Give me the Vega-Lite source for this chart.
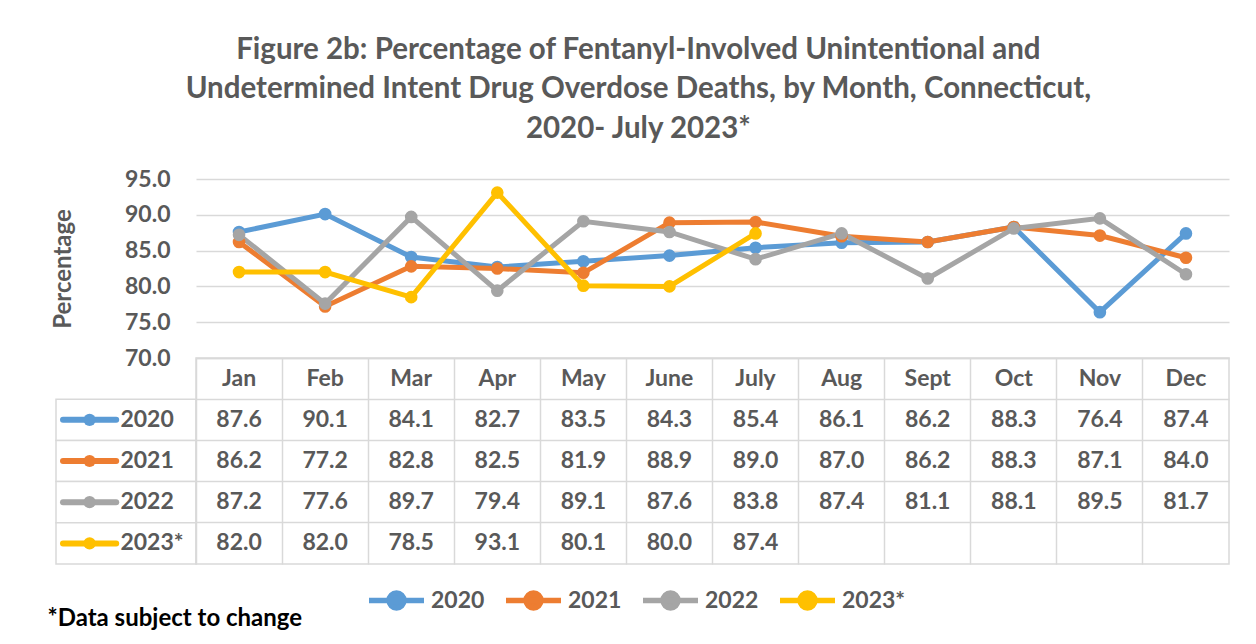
{
  "$schema": "https://vega.github.io/schema/vega-lite/v6.json",
  "background": "white",
  "padding": {"left": 47, "top": 34, "right": 10, "bottom": 5},
  "config": {
    "font": "Lato",
    "view": {"stroke": null},
    "axis": {
      "labelFont": "Lato", "labelFontWeight": "bold", "labelFontSize": 23, "labelColor": "#595959",
      "titleFont": "Lato", "titleFontWeight": "bold", "titleFontSize": 24, "titleColor": "#595959"
    },
    "legend": {"labelFont": "Lato", "labelFontWeight": "bold", "labelFontSize": 23, "labelColor": "#595959"}
  },
  "title": {
    "text": ["Figure 2b: Percentage of Fentanyl-Involved Unintentional and", "Undetermined Intent Drug Overdose Deaths, by Month, Connecticut,", "2020- July 2023*"],
    "font": "Lato", "fontSize": 29.5, "fontWeight": "bold", "color": "#595959",
    "lineHeight": 39.5, "anchor": "middle", "offset": 24
  },
  "data": {"values": [
    {"year": "2020", "month": "Jan", "value": 87.6}, {"year": "2020", "month": "Feb", "value": 90.1}, {"year": "2020", "month": "Mar", "value": 84.1}, {"year": "2020", "month": "Apr", "value": 82.7}, {"year": "2020", "month": "May", "value": 83.5}, {"year": "2020", "month": "June", "value": 84.3}, {"year": "2020", "month": "July", "value": 85.4}, {"year": "2020", "month": "Aug", "value": 86.1}, {"year": "2020", "month": "Sept", "value": 86.2}, {"year": "2020", "month": "Oct", "value": 88.3}, {"year": "2020", "month": "Nov", "value": 76.4}, {"year": "2020", "month": "Dec", "value": 87.4},
    {"year": "2021", "month": "Jan", "value": 86.2}, {"year": "2021", "month": "Feb", "value": 77.2}, {"year": "2021", "month": "Mar", "value": 82.8}, {"year": "2021", "month": "Apr", "value": 82.5}, {"year": "2021", "month": "May", "value": 81.9}, {"year": "2021", "month": "June", "value": 88.9}, {"year": "2021", "month": "July", "value": 89.0}, {"year": "2021", "month": "Aug", "value": 87.0}, {"year": "2021", "month": "Sept", "value": 86.2}, {"year": "2021", "month": "Oct", "value": 88.3}, {"year": "2021", "month": "Nov", "value": 87.1}, {"year": "2021", "month": "Dec", "value": 84.0},
    {"year": "2022", "month": "Jan", "value": 87.2}, {"year": "2022", "month": "Feb", "value": 77.6}, {"year": "2022", "month": "Mar", "value": 89.7}, {"year": "2022", "month": "Apr", "value": 79.4}, {"year": "2022", "month": "May", "value": 89.1}, {"year": "2022", "month": "June", "value": 87.6}, {"year": "2022", "month": "July", "value": 83.8}, {"year": "2022", "month": "Aug", "value": 87.4}, {"year": "2022", "month": "Sept", "value": 81.1}, {"year": "2022", "month": "Oct", "value": 88.1}, {"year": "2022", "month": "Nov", "value": 89.5}, {"year": "2022", "month": "Dec", "value": 81.7},
    {"year": "2023*", "month": "Jan", "value": 82.0}, {"year": "2023*", "month": "Feb", "value": 82.0}, {"year": "2023*", "month": "Mar", "value": 78.5}, {"year": "2023*", "month": "Apr", "value": 93.1}, {"year": "2023*", "month": "May", "value": 80.1}, {"year": "2023*", "month": "June", "value": 80.0}, {"year": "2023*", "month": "July", "value": 87.4}, {"year": "2023*", "month": "Aug", "value": null}, {"year": "2023*", "month": "Sept", "value": null}, {"year": "2023*", "month": "Oct", "value": null}, {"year": "2023*", "month": "Nov", "value": null}, {"year": "2023*", "month": "Dec", "value": null}
  ]},
  "columns": 2,
  "spacing": 0,
  "bounds": "flush",
  "resolve": {"scale": {"color": "shared"}},
  "concat": [
    {
      "width": 140,
      "height": 179,
      "view": {"stroke": null},
      "transform": [{"filter": "false"}],
      "mark": {"type": "point", "opacity": 0}
    },
    {
      "width": 1033,
      "height": 179,
      "view": {"stroke": null},
      "transform": [{"filter": "datum.value != null"}],
      "encoding": {
        "x": {"field": "month", "type": "ordinal", "sort": ["Jan","Feb","Mar","Apr","May","June","July","Aug","Sept","Oct","Nov","Dec"],
              "scale": {"type": "point", "padding": 0.5, "domain": ["Jan","Feb","Mar","Apr","May","June","July","Aug","Sept","Oct","Nov","Dec"]}, "axis": null},
        "y": {"field": "value", "type": "quantitative", "scale": {"domain": [70, 95], "nice": false, "zero": false},
              "axis": {"values": [70, 75, 80, 85, 90, 95], "format": ".1f", "title": "Percentage", "ticks": false, "domain": false,
                       "labelPadding": 26, "titlePadding": 49, "grid": true, "gridColor": "#D9D9D9", "gridWidth": 1.5}},
        "color": {"field": "year", "type": "nominal",
                  "scale": {"domain": ["2020", "2021", "2022", "2023*"], "range": ["#5B9BD5", "#ED7D31", "#A5A5A5", "#FFC000"]}}
      },
      "layer": [
        {"mark": {"type": "line", "strokeWidth": 5}},
        {"mark": {"type": "point", "filled": true, "size": 160, "opacity": 1},
         "encoding": {
           "color": {"field": "year", "type": "nominal",
             "legend": {"orient": "none", "legendX": 310, "legendY": 391, "direction": "horizontal", "title": null,
                        "symbolType": "M-1,0H1M-0.27,0A0.27,0.27,0,1,0,0.27,0A0.27,0.27,0,1,0,-0.27,0Z",
                        "symbolSize": 3025, "symbolStrokeWidth": 5.5, "labelOffset": 4, "columnPadding": 10,
                        "encode": {"symbols": {"update": {"fill": {"scale": "color", "field": "value"}, "stroke": {"scale": "color", "field": "value"}, "strokeWidth": {"value": 5.5}}}}}}
         }}
      ]
    },
    {
      "width": 140,
      "height": 206,
      "view": {"stroke": null},
      "transform": [{"filter": "datum.month == 'Jan'"}],
      "encoding": {
        "y": {"field": "year", "type": "nominal", "scale": {"type": "band", "domain": ["", "2020", "2021", "2022", "2023*"], "paddingInner": 0, "paddingOuter": 0}, "axis": null}
      },
      "layer": [
        {"mark": {"type": "rect", "fill": "white", "stroke": "#D9D9D9", "strokeWidth": 1.5},
         "encoding": {"x": {"datum": 0, "type": "quantitative", "scale": {"domain": [0, 1], "nice": false},
                            "axis": {"title": "*Data subject to change", "labels": false, "ticks": false, "domain": false, "grid": false,
                                     "titleAnchor": "start", "titleAlign": "left", "titlePadding": 42, "titleColor": "#000000", "titleFontSize": 24, "titleX": -9}},
                      "x2": {"datum": 1}}},
        {"mark": {"type": "rule", "strokeWidth": 6, "strokeCap": "round"},
         "encoding": {"x": {"datum": 0.05, "type": "quantitative"}, "x2": {"datum": 0.43},
                      "y": {"field": "year", "type": "nominal", "bandPosition": 0.5},
                      "color": {"field": "year", "type": "nominal"}}},
        {"mark": {"type": "point", "filled": true, "size": 150, "opacity": 1},
         "encoding": {"x": {"datum": 0.24, "type": "quantitative"},
                      "y": {"field": "year", "type": "nominal", "bandPosition": 0.5},
                      "color": {"field": "year", "type": "nominal"}}},
        {"mark": {"type": "text", "align": "left", "baseline": "middle", "fontSize": 23, "fontWeight": "bold", "color": "#595959", "font": "Lato"},
         "encoding": {"x": {"datum": 0.46, "type": "quantitative"},
                      "y": {"field": "year", "type": "nominal", "bandPosition": 0.5},
                      "text": {"field": "year"}}}
      ]
    },
    {
      "width": 1033,
      "height": 206,
      "view": {"stroke": "#D9D9D9", "strokeWidth": 1.5},
      "encoding": {
        "x": {"field": "month", "type": "ordinal",
              "scale": {"type": "band", "domain": ["Jan","Feb","Mar","Apr","May","June","July","Aug","Sept","Oct","Nov","Dec"], "paddingInner": 0, "paddingOuter": 0},
              "axis": {"title": null, "labels": false, "ticks": false, "domain": false, "grid": true, "gridColor": "#D9D9D9", "gridWidth": 1.5, "bandPosition": 0}}
      },
      "layer": [
        {"transform": [{"filter": "datum.value != null"}],
         "mark": {"type": "text", "align": "center", "baseline": "middle", "fontSize": 23, "fontWeight": "bold", "color": "#595959", "font": "Lato"},
         "encoding": {
           "y": {"field": "year", "type": "nominal", "bandPosition": 0.5,
                 "scale": {"type": "band", "domain": ["", "2020", "2021", "2022", "2023*"], "paddingInner": 0, "paddingOuter": 0},
                 "axis": {"title": null, "labels": false, "ticks": false, "domain": false, "grid": true, "gridColor": "#D9D9D9", "gridWidth": 1.5, "bandPosition": 0}},
           "text": {"field": "value", "type": "quantitative", "format": ".1f"}}},
        {"transform": [{"filter": "datum.year == '2020'"}],
         "mark": {"type": "text", "align": "center", "baseline": "middle", "fontSize": 23, "fontWeight": "bold", "color": "#595959", "font": "Lato"},
         "encoding": {
           "y": {"datum": "", "type": "nominal", "bandPosition": 0.5},
           "text": {"field": "month"}}}
      ]
    }
  ]
}
